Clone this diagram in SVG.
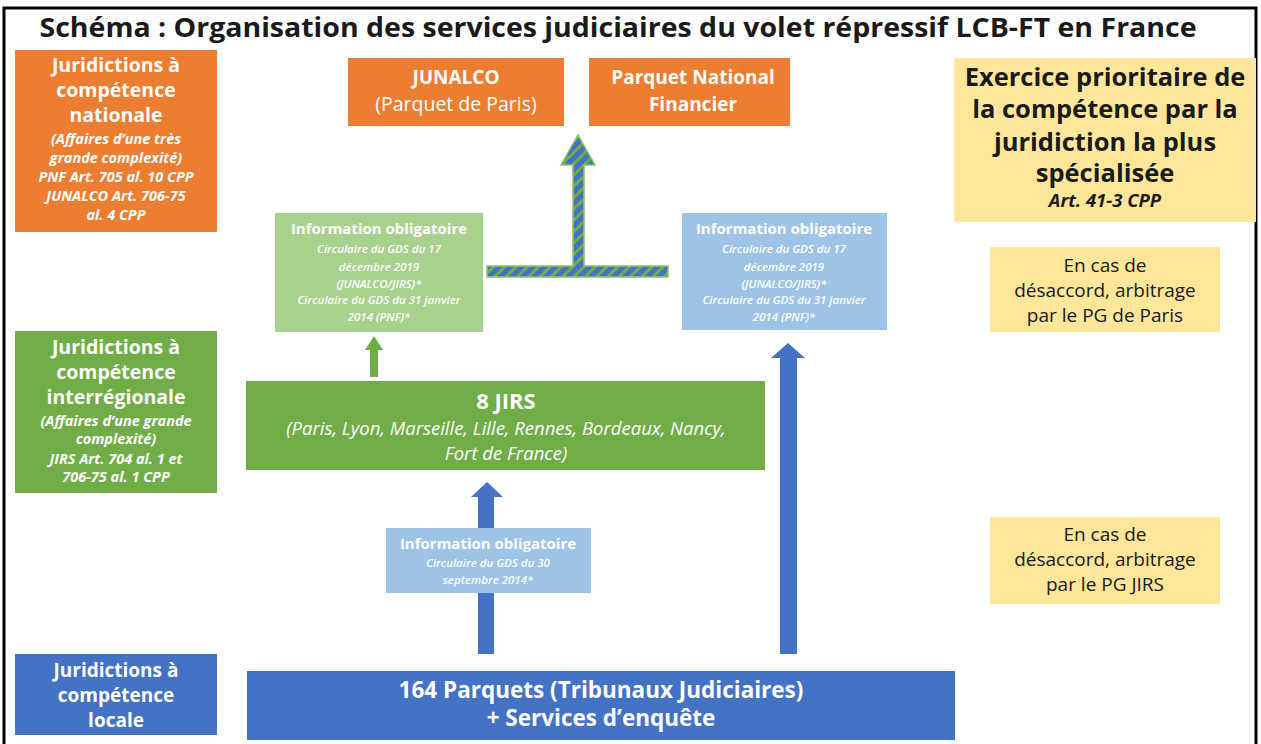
<svg xmlns="http://www.w3.org/2000/svg" width="1261" height="744" viewBox="0 0 1261 744">
<style>
text{font-family:"Open Sans","Liberation Sans",sans-serif;text-anchor:middle}
.w{fill:#ffffff}
.k{fill:#1a1a1a}
.b{font-weight:bold}
.sb{font-weight:600}
.i{font-style:italic}
.orange{fill:#ED7D31}
.green{fill:#70AD47}
.lgreen{fill:#A9D18E}
.blue{fill:#4472C4}
.lblue{fill:#9DC3E6}
.yellow{fill:#FFE699}
</style>
<defs>
<pattern id="hatch" patternUnits="userSpaceOnUse" width="8" height="8" patternTransform="rotate(45)">
<rect width="8" height="8" fill="#4472C4"/>
<rect width="3" height="8" fill="#70AD47"/>
</pattern>
</defs>
<rect x="0" y="0" width="1261" height="744" fill="#ffffff"/>
<rect x="4" y="8" width="1252" height="740" fill="none" stroke="#000" stroke-width="3"/>
<text x="618" y="37" class="b k" font-size="26" textLength="1157" lengthAdjust="spacingAndGlyphs" fill="#000">Schéma : Organisation des services judiciaires du volet répressif LCB-FT en France</text>

<g id="connectors">
<path d="M487,266 H573 V165 H561 L578,135 L595,165 H584 V266 H668 V277 H487 Z" fill="url(#hatch)" stroke="#8CC36A" stroke-width="1.5"/>
<path d="M370,377 V350 H365 L374,336 L383,350 H378 V377 Z" class="green"/>
<path d="M478,654 V497 H471 L487,482 L503,497 H494 V654 Z" class="blue"/>
<path d="M780,654 V358 H771 L788,343 L805,358 H797 V654 Z" class="blue"/>
</g>

<g id="nat">
<rect x="15" y="50" width="202" height="182" class="orange"/>
<text class="w b" font-size="19.5"><tspan x="116" y="72">Juridictions à</tspan><tspan x="116" y="97">compétence</tspan><tspan x="116" y="122">nationale</tspan></text>
<text class="w b i" font-size="14.5"><tspan x="116" y="144">(Affaires d’une très</tspan><tspan x="116" y="163">grande complexité)</tspan><tspan x="116" y="182">PNF Art. 705 al. 10 CPP</tspan><tspan x="116" y="201">JUNALCO Art. 706-75</tspan><tspan x="116" y="220">al. 4 CPP</tspan></text>
</g>

<g id="junalco">
<rect x="348" y="58" width="216" height="68" class="orange"/>
<text x="456" y="84" class="w b" font-size="19">JUNALCO</text>
<text x="456" y="111" class="w" font-size="19.5">(Parquet de Paris)</text>
</g>

<g id="pnf">
<rect x="589" y="58" width="201" height="68" class="orange"/>
<text x="693" y="84" class="w b" font-size="19">Parquet National</text>
<text x="693" y="111" class="w b" font-size="19">Financier</text>
</g>

<g id="prio">
<rect x="954" y="58" width="302" height="164" class="yellow"/>
<text class="k b" font-size="25.5"><tspan x="1105" y="86">Exercice prioritaire de</tspan><tspan x="1105" y="118">la compétence par la</tspan><tspan x="1105" y="151">juridiction la plus</tspan><tspan x="1105" y="182">spécialisée</tspan></text>
<text x="1105" y="207" class="k b i" font-size="18.5">Art. 41-3 CPP</text>
</g>

<g id="info-green">
<rect x="275" y="213" width="208" height="119" class="lgreen"/>
<text x="379" y="234" class="w b" font-size="15">Information obligatoire</text>
<text class="w i sb" font-size="11.5"><tspan x="379" y="253">Circulaire du GDS du 17</tspan><tspan x="379" y="271">décembre 2019</tspan><tspan x="379" y="288">(JUNALCO/JIRS)*</tspan><tspan x="379" y="304">Circulaire du GDS du 31 janvier</tspan><tspan x="379" y="321">2014 (PNF)*</tspan></text>
</g>

<g id="info-blue">
<rect x="682" y="213" width="205" height="117" class="lblue"/>
<text x="784" y="234" class="w b" font-size="15">Information obligatoire</text>
<text class="w i sb" font-size="11.5"><tspan x="784" y="253">Circulaire du GDS du 17</tspan><tspan x="784" y="271">décembre 2019</tspan><tspan x="784" y="288">(JUNALCO/JIRS)*</tspan><tspan x="784" y="304">Circulaire du GDS du 31 janvier</tspan><tspan x="784" y="321">2014 (PNF)*</tspan></text>
</g>

<g id="arb-paris">
<rect x="990" y="247" width="230" height="85" class="yellow"/>
<text class="k" font-size="19"><tspan x="1105" y="272">En cas de</tspan><tspan x="1105" y="297">désaccord, arbitrage</tspan><tspan x="1105" y="322">par le PG de Paris</tspan></text>
</g>

<g id="interreg">
<rect x="15" y="331" width="202" height="162" class="green"/>
<text class="w b" font-size="19.5"><tspan x="116" y="354">Juridictions à</tspan><tspan x="116" y="379">compétence</tspan><tspan x="116" y="404">interrégionale</tspan></text>
<text class="w b i" font-size="14.5"><tspan x="116" y="426">(Affaires d’une grande</tspan><tspan x="116" y="444">complexité)</tspan><tspan x="116" y="464">JIRS Art. 704 al. 1 et</tspan><tspan x="116" y="482">706-75 al. 1 CPP</tspan></text>
</g>

<g id="jirs">
<rect x="246" y="381" width="519" height="89" class="green"/>
<text x="506" y="409" class="w b" font-size="22">8 JIRS</text>
<text class="w i" font-size="18.5"><tspan x="506" y="435">(Paris, Lyon, Marseille, Lille, Rennes, Bordeaux, Nancy,</tspan><tspan x="506" y="460">Fort de France)</tspan></text>
</g>

<g id="info-small">
<rect x="386" y="528" width="205" height="65" class="lblue"/>
<text x="488" y="549" class="w b" font-size="15">Information obligatoire</text>
<text class="w i sb" font-size="11.5"><tspan x="488" y="567">Circulaire du GDS du 30</tspan><tspan x="488" y="584">septembre 2014*</tspan></text>
</g>

<g id="arb-jirs">
<rect x="990" y="517" width="230" height="87" class="yellow"/>
<text class="k" font-size="19"><tspan x="1105" y="541">En cas de</tspan><tspan x="1105" y="566">désaccord, arbitrage</tspan><tspan x="1105" y="591">par le PG JIRS</tspan></text>
</g>

<g id="locale">
<rect x="15" y="654" width="202" height="81" class="blue"/>
<text class="w b" font-size="19"><tspan x="116" y="677">Juridictions à</tspan><tspan x="116" y="702">compétence</tspan><tspan x="116" y="727">locale</tspan></text>
</g>

<g id="parquets">
<rect x="247" y="671" width="708" height="69" class="blue"/>
<text x="601" y="698" class="w b" font-size="22.5">164 Parquets (Tribunaux Judiciaires)</text>
<text x="601" y="726" class="w b" font-size="22.5">+ Services d’enquête</text>
</g>
</svg>
